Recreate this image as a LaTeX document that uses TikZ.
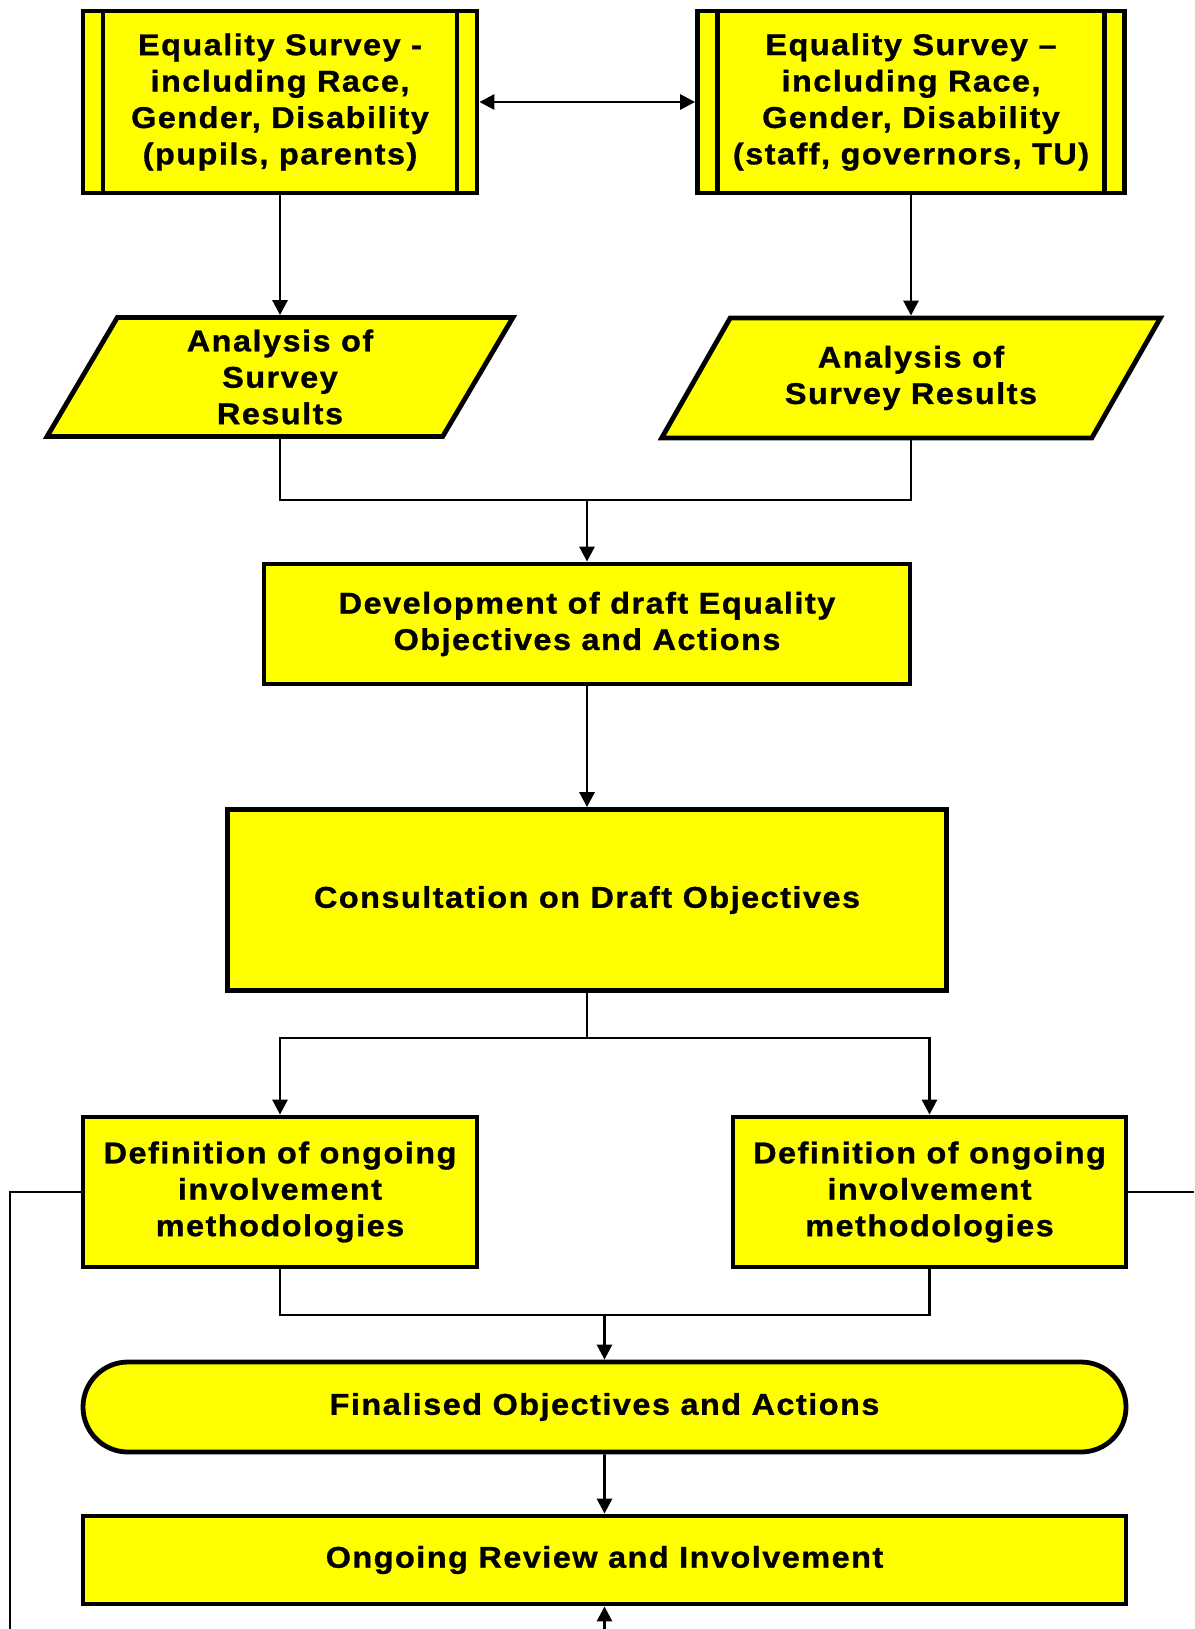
\documentclass[tikz,border=0pt]{standalone}
\usepackage{fontspec}
\setmainfont{Liberation Sans}[LetterSpace=5, FakeStretch=1.08, FakeBold=1]
\usetikzlibrary{shapes.geometric,shapes.misc,arrows.meta}
\definecolor{flowyellow}{RGB}{255,255,0}

\begin{document}
\begin{tikzpicture}[x=1pt,y=-1pt,
    box/.style={draw, fill=flowyellow, line width=4.8pt, align=center, inner sep=0pt,
        font=\fontsize{30}{36.4}\selectfont\bfseries},
    survey/.style={box, minimum width=394pt, minimum height=182pt,
        path picture={
            \draw[line width=4.5pt] ([xshift=20pt]path picture bounding box.north west) -- ([xshift=20pt]path picture bounding box.south west);
            \draw[line width=4.5pt] ([xshift=-20pt]path picture bounding box.north east) -- ([xshift=-20pt]path picture bounding box.south east);}},
    data/.style={box, trapezium, trapezium stretches=true},
    link/.style={line width=2.8pt},
    arrow/.style={link, -{Triangle[length=15pt,width=15pt]}}]

\useasboundingbox (0,0) rectangle (1194,1629);

\node[survey] (surveyL) at (280,102) {Equality Survey -\\including Race,\\Gender, Disability\\(pupils, parents)};
\node[survey, minimum width=427pt] (surveyR) at (911,102) {Equality Survey –\\including Race,\\Gender, Disability\\(staff, governors, TU)};

\node[data, trapezium left angle=67, trapezium right angle=113, minimum width=467pt, minimum height=119pt] (analysisL) at (280,377) {Analysis of\\Survey\\Results};
\node[data, trapezium left angle=53.4, trapezium right angle=126.6, minimum width=500pt, minimum height=120pt] (analysisR) at (911,378) {Analysis of\\Survey Results};

\node[box, minimum width=646pt, minimum height=120pt] (draft) at (587,624) {Development of draft Equality\\Objectives and Actions};
\node[box, minimum width=719pt, minimum height=181pt] (consult) at (587,900) {Consultation on Draft Objectives};

\node[box, minimum width=394pt, minimum height=150pt] (defL) at (280,1192) {Definition of ongoing\\involvement\\methodologies};
\node[box, minimum width=393pt, minimum height=150pt] (defR) at (929.5,1192) {Definition of ongoing\\involvement\\methodologies};

\node[box, rounded rectangle, minimum width=1043pt, minimum height=90pt] (final) at (604.5,1407) {Finalised Objectives and Actions};
\node[box, minimum width=1043pt, minimum height=88pt] (review) at (604.5,1560) {Ongoing Review and Involvement};

\coordinate (join1) at (587,500);
\coordinate (split) at (587,1038);
\coordinate (join2) at (604.5,1315);
\coordinate (loopB) at (604.5,1629);
\coordinate (loopL) at (10,1629);
\coordinate (loopR) at (1194,1192);

\draw[link, {Triangle[length=15pt,width=15pt]}-{Triangle[length=15pt,width=15pt]}] (surveyL) -- (surveyR);
\draw[arrow] (surveyL) -- (analysisL);
\draw[arrow] (surveyR) -- (analysisR);

\draw[link] (analysisL.south) |- (join1);
\draw[link] (analysisR.south) |- (join1);
\draw[arrow] (join1) -- (draft);
\draw[arrow] (draft) -- (consult);

\draw[arrow] (consult.south) -- (split) -| (defL.north);
\draw[arrow] (split) -| (defR.north);

\draw[link] (defL.south) |- (join2);
\draw[link] (defR.south) |- (join2);
\draw[arrow] (join2) -- (final);
\draw[arrow] (final) -- (review);

\draw[arrow] (loopB) -- (review);
\draw[link] (defL.west) -| (loopL);
\draw[link] (defR.east) -- (loopR);

\end{tikzpicture}
\end{document}
